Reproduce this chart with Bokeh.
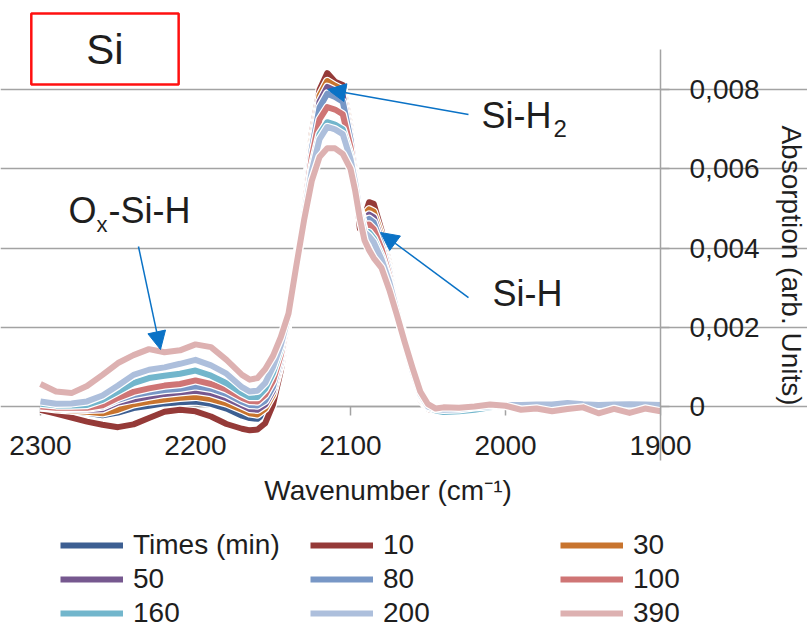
import numpy as np
from bokeh.plotting import figure
from bokeh.models import (Range1d, FixedTicker, LinearAxis, Label, Arrow, NormalHead, Grid,
                          Legend, LegendItem, ColumnDataSource)
from bokeh.embed import file_html
from bokeh.resources import INLINE

# ---------------- data (absorption in units of 1e-3) ----------------
wavenumber = [2300, 2290, 2280, 2270, 2260, 2250, 2240, 2230, 2220, 2210, 2200, 2190, 2180, 2170,
              2165, 2160, 2155, 2150, 2145, 2140, 2135, 2130, 2125, 2120, 2115, 2110, 2105, 2100,
              2097, 2094, 2091, 2088, 2085, 2080, 2075, 2070, 2065, 2060, 2055, 2050, 2045, 2040,
              2030, 2020, 2010, 2000, 1990, 1980, 1970, 1960, 1950, 1940, 1930, 1920, 1910, 1900]

t_0 = [-0.03, -0.07, -0.11, -0.16, -0.22, -0.15, -0.04, 0.02, 0.08, 0.11, 0.13, 0.07, -0.05, -0.23,
       -0.29, -0.31, -0.15, 0.20, 1.00, 2.15,
       3.65, 5.15, 6.80, 7.90, 8.30, 8.15, 8.05,
       7.00, 5.90, 4.85, 4.80, 5.00, 4.95, 4.35, 3.55, 2.58, 1.62, 0.80, 0.20, -0.05, -0.08, -0.08,
       -0.06, 0.00, 0.03, 0.06, 0.06, 0.05, 0.07, 0.05, 0.06, 0.04, 0.05, 0.06, 0.04, 0.05]
t_10 = [-0.08, -0.18, -0.28, -0.38, -0.46, -0.52, -0.45, -0.29, -0.13, -0.08, -0.12, -0.25, -0.44, -0.56,
        -0.60, -0.58, -0.42, 0.05, 0.90, 2.15,
        3.70, 5.25, 6.90, 8.00, 8.42, 8.20, 8.12,
        7.06, 5.75, 4.50, 4.80, 5.16, 5.12, 4.45, 3.60, 2.62, 1.65, 0.78, 0.18, -0.06, -0.10, -0.08,
        -0.07, -0.02, 0.02, 0.04, 0.05, 0.04, 0.05, 0.03, 0.04, 0.05, 0.03, 0.04, 0.05, 0.03]
t_30 = [-0.02, -0.07, -0.10, -0.13, -0.17, -0.08, 0.06, 0.13, 0.18, 0.22, 0.25, 0.19, 0.08, -0.08,
        -0.17, -0.20, -0.05, 0.30, 1.05, 2.15,
        3.65, 5.15, 6.75, 7.85, 8.22, 8.10, 8.00,
        6.95, 5.95, 4.95, 4.85, 4.98, 4.92, 4.32, 3.52, 2.56, 1.62, 0.82, 0.22, -0.03, -0.07, -0.08,
        -0.06, -0.01, 0.02, 0.05, 0.04, 0.06, 0.05, 0.04, 0.05, 0.06, 0.04, 0.08, 0.05, 0.04]
t_50 = [-0.02, -0.04, -0.07, -0.08, -0.07, 0.10, 0.18, 0.25, 0.32, 0.36, 0.40, 0.34, 0.21, 0.03,
        -0.06, -0.08, 0.05, 0.40, 1.10, 2.15,
        3.62, 5.05, 6.60, 7.70, 8.07, 7.98, 7.85,
        6.85, 5.95, 4.95, 4.75, 4.85, 4.78, 4.20, 3.45, 2.52, 1.60, 0.83, 0.24, -0.02, -0.06, -0.07,
        -0.05, 0.00, 0.03, 0.06, 0.07, 0.05, 0.06, 0.05, 0.04, 0.05, 0.06, 0.05, 0.04, 0.05]
t_80 = [0.00, -0.03, -0.05, -0.05, 0.00, 0.17, 0.29, 0.36, 0.42, 0.45, 0.51, 0.45, 0.32, 0.12,
        0.04, 0.03, 0.15, 0.50, 1.20, 2.20,
        3.60, 5.00, 6.50, 7.55, 7.90, 7.82, 7.70,
        6.75, 5.90, 4.95, 4.68, 4.74, 4.65, 4.10, 3.40, 2.48, 1.60, 0.85, 0.26, 0.00, -0.06, -0.07,
        -0.06, -0.01, 0.02, 0.05, 0.05, 0.04, 0.06, 0.03, 0.05, 0.04, 0.05, 0.04, 0.05, 0.03]
t_100 = [0.00, -0.03, -0.03, -0.03, 0.03, 0.22, 0.37, 0.46, 0.53, 0.57, 0.66, 0.57, 0.43, 0.22,
         0.14, 0.13, 0.30, 0.65, 1.30, 2.25,
         3.58, 4.95, 6.30, 7.25, 7.56, 7.50, 7.38,
         6.55, 5.80, 4.95, 4.58, 4.60, 4.48, 3.98, 3.30, 2.45, 1.60, 0.87, 0.28, 0.00, -0.05, -0.06,
         -0.05, 0.00, 0.02, 0.04, 0.05, 0.06, 0.04, 0.05, 0.04, 0.05, 0.03, 0.05, 0.04, 0.04]
t_160 = [0.07, 0.03, 0.03, 0.04, 0.17, 0.38, 0.59, 0.72, 0.78, 0.83, 0.91, 0.78, 0.59, 0.34,
         0.24, 0.24, 0.45, 0.85, 1.45, 2.30,
         3.57, 4.85, 6.05, 6.88, 7.18, 7.12, 7.00,
         6.35, 5.70, 4.90, 4.45, 4.40, 4.25, 3.80, 3.20, 2.40, 1.58, 0.88, 0.30, -0.02, -0.10, -0.14,
         -0.12, -0.08, -0.02, 0.03, 0.05, 0.02, 0.06, 0.02, 0.05, 0.03, 0.07, 0.02, 0.06, 0.02]
t_200 = [0.13, 0.07, 0.08, 0.13, 0.28, 0.53, 0.80, 0.93, 0.99, 1.08, 1.18, 1.04, 0.83, 0.49,
         0.38, 0.40, 0.60, 1.00, 1.55, 2.30,
         3.56, 4.80, 5.95, 6.75, 7.06, 7.00, 6.88,
         6.25, 5.65, 4.88, 4.40, 4.30, 4.15, 3.72, 3.15, 2.38, 1.58, 0.90, 0.32, 0.00, -0.06, -0.08,
         -0.07, -0.02, 0.01, 0.04, 0.04, 0.05, 0.05, 0.09, 0.06, 0.04, 0.05, 0.06, 0.05, 0.04]
t_390 = [0.57, 0.38, 0.34, 0.52, 0.80, 1.10, 1.30, 1.45, 1.37, 1.42, 1.57, 1.50, 1.18, 0.80,
         0.68, 0.72, 0.95, 1.28, 1.75, 2.35,
         3.55, 4.70, 5.70, 6.30, 6.52, 6.52, 6.38,
         6.00, 5.45, 4.75, 4.20, 3.95, 3.75, 3.50, 2.95, 2.30, 1.62, 0.98, 0.38, 0.06, -0.05, -0.02,
         -0.03, 0.00, 0.05, 0.02, -0.08, -0.05, -0.12, -0.06, -0.02, -0.17, -0.06, -0.16, -0.05, -0.12]

series_labels = ["Times (min)", "10", "30", "50", "80", "100", "160", "200", "390"]
series_values = [t_0, t_10, t_30, t_50, t_80, t_100, t_160, t_200, t_390]
series_colors = ["#3D5F92", "#953A38", "#C8742E", "#76588F", "#7897C6",
                 "#CF7575", "#72B6CC", "#ADBFDC", "#DDB1B1"]

x_ticks = [2300, 2200, 2100, 2000, 1900]
y_ticks = [0, 0.002, 0.004, 0.006, 0.008]
y_tick_labels = ["0", "0,002", "0,004", "0,006", "0,008"]
x_title = "Wavenumber (cm\u207b\u00b9)"
y_title = "Absorption (arb. Units)"

FONT = "Liberation Sans"
TXT = "#1E1E1E"
GRID = "#A3A3A3"
ARROW = "#0A72C6"

# the whole canvas is the plotting frame; 2300 -> 40 px, 1900 -> 660 px
p = figure(width=807, height=630,
           x_range=Range1d(2325.8, 1805.2), y_range=Range1d(-0.005654, 0.010253),
           x_axis_location=None, y_axis_location=None,
           output_backend="svg", toolbar_location=None,
           min_border=0, min_border_left=0, min_border_right=0,
           min_border_top=0, min_border_bottom=0,
           background_fill_color="white", border_fill_color="white")
p.outline_line_color = None
for g in list(p.grid):
    g.visible = False

p.add_layout(Grid(dimension=1, ticker=FixedTicker(ticks=y_ticks), bounds=(1900, 2300),
                  grid_line_color=GRID, grid_line_width=1.5))

# y axis at 1900 (labels to the right)
ya = LinearAxis(fixed_location=1900, ticker=FixedTicker(ticks=y_ticks),
                bounds=(-0.00137, 0.00902),
                axis_line_color=GRID, axis_line_width=1.5,
                major_tick_line_color=GRID, major_tick_line_width=1.5,
                major_tick_out=9, major_tick_in=0, minor_tick_line_color=None,
                major_label_standoff=20, major_label_text_font=FONT,
                major_label_text_font_size="28px", major_label_text_color=TXT)
ya.major_label_overrides = dict(zip(y_ticks, y_tick_labels))
p.add_layout(ya, "right")

# x tick labels just under the plotted area
xa = LinearAxis(fixed_location=-0.00068, ticker=FixedTicker(ticks=x_ticks),
                axis_line_color=None, major_tick_line_color=None, minor_tick_line_color=None,
                major_tick_out=0, major_tick_in=0, major_label_standoff=2,
                major_label_text_font=FONT, major_label_text_font_size="28px",
                major_label_text_color=TXT)
p.add_layout(xa, "below")

# x axis line at y = 0 with tick marks
zero_axis = LinearAxis(fixed_location=0, ticker=FixedTicker(ticks=x_ticks), bounds=(1900, 2300),
                       axis_line_color=GRID, axis_line_width=1.5,
                       major_tick_line_color=GRID, major_tick_line_width=1.5,
                       major_tick_out=9, major_tick_in=0, major_label_standoff=0,
                       minor_tick_line_color=None,
                       major_label_text_font_size="1px", major_label_text_color=None,
                       level="underlay")
p.add_layout(zero_axis, "below")

# series
items = []
x = np.array(wavenumber, dtype=float)
for lab, vals, col in zip(series_labels, series_values, series_colors):
    src = ColumnDataSource(dict(x=x, y=np.array(vals) * 1e-3))
    p.line("x", "y", source=src, line_color="white", line_width=8.5, line_join="round")
    r = p.line("x", "y", source=src, line_color=col, line_width=6, line_join="round")
    items.append(LegendItem(label=lab, renderers=[r]))

legend = Legend(items=items, orientation="horizontal", ncols=3, location=(60, 1),
                glyph_width=63, glyph_height=32, label_height=32, label_width=175,
                label_standoff=10, spacing=2, padding=0, margin=0,
                label_text_font=FONT, label_text_font_size="28px", label_text_color=TXT,
                border_line_color=None, background_fill_alpha=0)
p.add_layout(legend)

# texts
def lab(xv, yv, text, size, align="left", **kw):
    p.add_layout(Label(x=xv, y=yv, text=text, text_font=FONT, text_font_size=size,
                       text_color=TXT, text_align=align, text_baseline="middle", **kw))

lab(2075.8, -0.002119, x_title, "28px", align="center")
lab(1815.5, 0.003562, y_title, "28px", align="center", angle=-np.pi / 2)

lab(2015.5, 0.00735, "Si-H", "36px")
lab(1969.0, 0.00702, "2", "24px")
lab(2008.4, 0.002854, "Si-H", "36px")
lab(2281.9, 0.004951, "O", "36px")
lab(2263.9, 0.004597, "x", "22px")
lab(2256.1, 0.004951, "-Si-H", "36px")

p.add_layout(Label(x=2258.4, y=0.009028, text="Si", text_font=FONT, text_font_size="42px",
                   text_color=TXT, text_align="center", text_baseline="middle",
                   border_line_color="#FF1010", border_line_width=2.5,
                   background_fill_color="white",
                   padding=dict(left=55, right=55, top=12, bottom=12)))

for xs, ys, xe, ye in [(2023.9, 0.007376, 2114.8, 0.008007),
                       (2023.9, 0.002753, 2080.6, 0.004395),
                       (2236.8, 0.004041, 2222.6, 0.00144)]:
    p.add_layout(Arrow(x_start=xs, y_start=ys, x_end=xe, y_end=ye,
                       line_color=ARROW, line_width=1.5,
                       end=NormalHead(size=18, fill_color=ARROW, line_color=ARROW, line_width=1)))

open("out.html", "w").write(file_html(p, INLINE))
